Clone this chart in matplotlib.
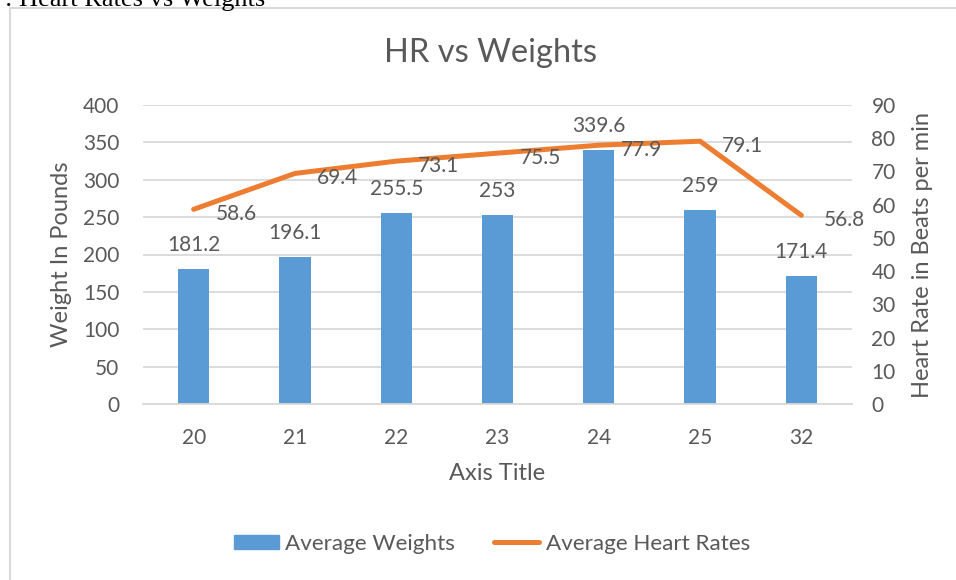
import matplotlib.pyplot as plt
import matplotlib.patches as mpatches
from matplotlib.lines import Line2D

# ── data ────────────────────────────────────────────────────────────────
ages = ["20", "21", "22", "23", "24", "25", "32"]
avg_weights = [181.2, 196.1, 255.5, 253, 339.6, 259, 171.4]
avg_heart_rates = [58.6, 69.4, 73.1, 75.5, 77.9, 79.1, 56.8]
weight_labels = ["181.2", "196.1", "255.5", "253", "339.6", "259", "171.4"]
hr_labels = ["58.6", "69.4", "73.1", "75.5", "77.9", "79.1", "56.8"]

BLUE = "#5B9BD5"
ORANGE = "#ED7D31"
TXT = "#595959"
GRID = "#D9D9D9"

plt.rcParams["font.family"] = ["Lato", "DejaVu Sans"]

W, H = 956, 580
fig = plt.figure(figsize=(W / 100, H / 100), dpi=100)

# plot area in pixels: x 143..852, y 105..404
ax = fig.add_axes([143 / W, 1 - 404 / H, (852 - 143) / W, (404 - 105) / H])
ax2 = ax.twinx()

x = list(range(len(ages)))
bars = ax.bar(x, avg_weights, width=0.31, color=BLUE, zorder=2)
ax.set_xlim(-0.5, len(ages) - 0.5)
ax.set_ylim(0, 400)
ax.set_yticks(range(0, 401, 50))
ax.set_xticks(x)
ax.set_xticklabels(ages)
ax.yaxis.grid(True, color=GRID, linewidth=1.3, zorder=0)
ax.set_axisbelow(True)

ax2.plot(x, avg_heart_rates, color=ORANGE, linewidth=3.6,
         solid_joinstyle="round", solid_capstyle="round", zorder=3)
ax2.set_ylim(0, 90)
ax2.set_yticks(range(0, 91, 10))

for a in (ax, ax2):
    for s in a.spines.values():
        s.set_visible(False)
    a.tick_params(length=0, labelsize=15, colors=TXT)
ax.spines["bottom"].set_visible(True)
ax.spines["bottom"].set_color(GRID)
ax.spines["bottom"].set_linewidth(1.3)
ax.tick_params(axis="y", pad=17)
ax.tick_params(axis="x", pad=17)
ax2.tick_params(axis="y", pad=14)

# data labels
for xi, v, lab in zip(x, avg_weights, weight_labels):
    ax.annotate(lab, (xi, v), xytext=(0, 18), textcoords="offset pixels",
                ha="center", va="baseline", fontsize=15, color=TXT, zorder=4)
for xi, v, lab in zip(x, avg_heart_rates, hr_labels):
    ax2.annotate(lab, (xi, v), xytext=(22, -3), textcoords="offset pixels",
                 ha="left", va="center_baseline", fontsize=15, color=TXT,
                 zorder=4)

ax.set_ylabel("Weight In Pounds", fontsize=17, color=TXT, labelpad=8)
ax2.set_ylabel("Heart Rate in Beats per min", fontsize=17, color=TXT,
               labelpad=12)
ax.set_xlabel("Axis Title", fontsize=17, color=TXT, labelpad=11)

fig.text(490 / W, 1 - 53 / H, "HR vs Weights", fontsize=23.5, color=TXT,
         ha="center", va="center")

handles = [mpatches.Patch(color=BLUE, label="Average Weights"),
           Line2D([], [], color=ORANGE, linewidth=3.6,
                  solid_capstyle="round", label="Average Heart Rates")]
fig.legend(handles=handles, loc="center", bbox_to_anchor=(492 / W, 1 - 544 / H),
           ncol=2, frameon=False, fontsize=16.2, labelcolor=TXT,
           handlelength=2.0, handleheight=0.6, handletextpad=0.28,
           columnspacing=1.75)

# chart border (only left and top visible in the crop)
fig.add_artist(Line2D([9.5 / W, 9.5 / W], [0, 1 - 7.5 / H],
                      transform=fig.transFigure, color=GRID, linewidth=1.5))
fig.add_artist(Line2D([9.5 / W, 1], [1 - 7.5 / H, 1 - 7.5 / H],
                      transform=fig.transFigure, color=GRID, linewidth=1.5))

# caption above the chart, cut off by the image edge
fig.text(265 / W, 1 - 6 / H, ": Heart Rates vs Weights", fontsize=19,
         family=["Liberation Serif", "DejaVu Serif"], color="black",
         ha="right", va="baseline")

fig.savefig("out.png", dpi=100)
